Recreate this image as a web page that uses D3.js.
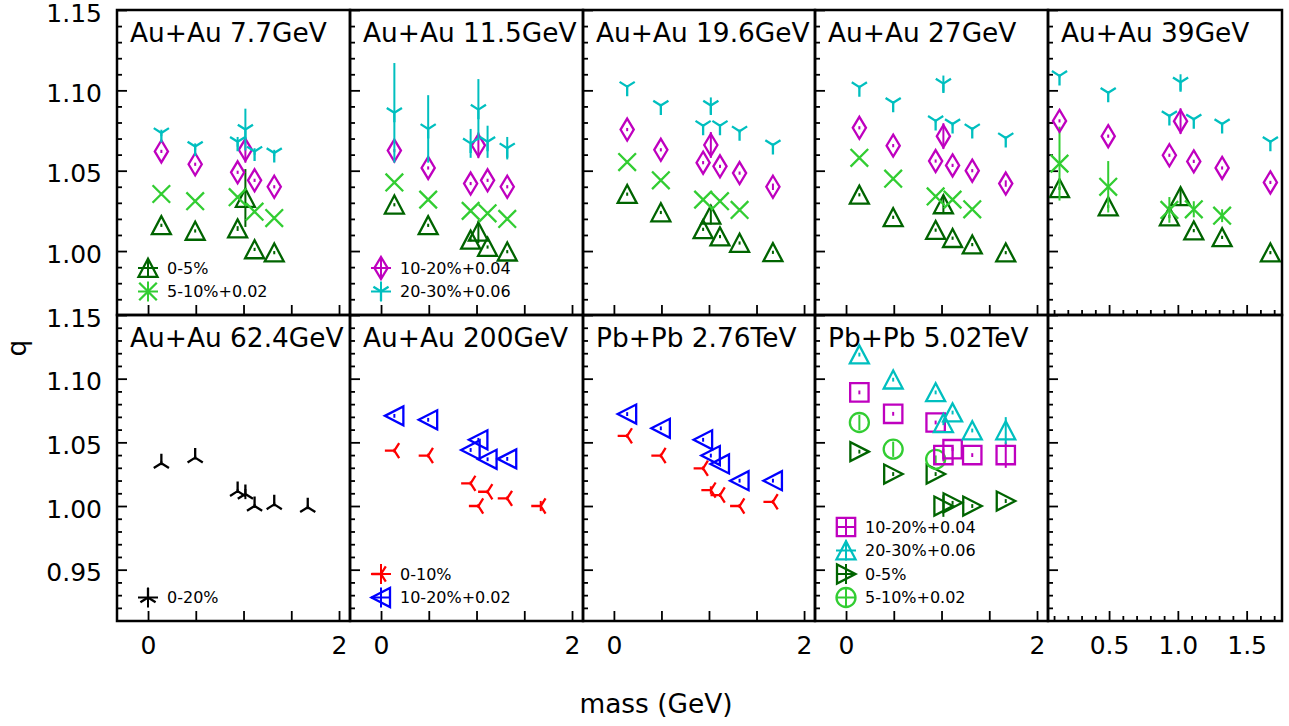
<!DOCTYPE html>
<html><head><meta charset="utf-8">
<script src="https://cdn.jsdelivr.net/npm/d3@7"></script>
<style>body{margin:0;background:#fff}svg{display:block}text{font-family:"DejaVu Sans",sans-serif;fill:#000}</style>
</head><body><svg id="c" width="1289" height="726"></svg>
<script>
// ---------------- data ----------------
const species = ["pi", "K", "p", "phi", "Lambda", "Xi", "Omega"];
const mass = [0.1396, 0.4937, 0.9383, 1.0195, 1.1157, 1.3217, 1.6725];

// Au+Au 7.7 GeV
const q7_0_5   = [1.016, 1.0125, 1.014, 1.033, 1.001, 0.999, null];
const e7_0_5   = [0.001, 0.001, 0.0015, 0.018, 0.001, 0.001, null];
const q7_5_10  = [1.0355, 1.031, 1.0335, null, 1.0245, 1.0205, null];
const e7_5_10  = [0.001, 0.001, 0.001, null, 0.001, 0.001, null];
const q7_10_20 = [1.062, 1.054, 1.049, 1.063, 1.044, 1.040, null];
const e7_10_20 = [0.001, 0.001, 0.001, 0.008, 0.001, 0.001, null];
const q7_20_30 = [1.0735, 1.065, 1.068, 1.0756, 1.062, 1.061, null];
const e7_20_30 = [0.002, 0.002, 0.003, 0.013, 0.002, 0.002, null];
// Au+Au 11.5 GeV
const q11_0_5   = [1.0288, 1.016, 1.007, 1.012, 1.0025, 0.9996, null];
const e11_0_5   = [0.001, 0.001, 0.001, 0.007, 0.001, 0.001, null];
const q11_5_10  = [1.0427, 1.032, 1.025, null, 1.0235, 1.020, null];
const e11_5_10  = [0.001, 0.001, 0.001, null, 0.001, 0.001, null];
const q11_10_20 = [1.0625, 1.0517, 1.042, 1.0658, 1.044, 1.040, null];
const e11_10_20 = [0.001, 0.001, 0.001, 0.008, 0.001, 0.001, null];
const q11_20_30 = [1.086, 1.076, 1.067, 1.088, 1.068, 1.064, null];
const e11_20_30 = [0.031, 0.021, 0.009, 0.019, 0.010, 0.007, null];
// Au+Au 19.6 GeV
const q19_0_5   = [1.0354, 1.024, 1.0135, 1.0225, 1.009, 1.005, 0.9992];
const e19_0_5   = [0.001, 0.001, 0.001, 0.006, 0.001, 0.001, 0.001];
const q19_5_10  = [1.0554, 1.044, 1.032, null, 1.031, 1.0256, null];
const e19_5_10  = [0.001, 0.001, 0.001, null, 0.001, 0.001, null];
const q19_10_20 = [1.0756, 1.063, 1.055, 1.066, 1.0527, 1.0485, 1.040];
const e19_10_20 = [0.001, 0.001, 0.001, 0.008, 0.001, 0.001, 0.002];
const q19_20_30 = [1.1023, 1.0906, 1.078, 1.0906, 1.078, 1.0746, 1.066];
const e19_20_30 = [0.001, 0.001, 0.001, 0.005, 0.001, 0.001, 0.001];
// Au+Au 27 GeV
const q27_0_5   = [1.035, 1.021, 1.013, 1.029, 1.008, 1.004, 0.999];
const e27_0_5   = [0.001, 0.001, 0.001, 0.006, 0.001, 0.001, 0.001];
const q27_5_10  = [1.058, 1.045, 1.034, null, 1.032, 1.026, null];
const e27_5_10  = [0.001, 0.001, 0.001, null, 0.001, 0.001, null];
const q27_10_20 = [1.0767, 1.0656, 1.056, 1.0715, 1.0533, 1.050, 1.042];
const e27_10_20 = [0.001, 0.001, 0.001, 0.008, 0.001, 0.001, 0.002];
const q27_20_30 = [1.102, 1.0923, 1.081, 1.1042, 1.079, 1.076, 1.0704];
const e27_20_30 = [0.001, 0.001, 0.001, 0.005, 0.001, 0.001, 0.001];
// Au+Au 39 GeV
const q39_0_5   = [1.039, 1.0277, 1.0215, 1.034, 1.0127, 1.0085, 0.999];
const e39_0_5   = [0.001, 0.001, 0.001, 0.005, 0.001, 0.001, 0.001];
const q39_5_10  = [1.0544, 1.040, 1.0256, null, 1.026, 1.022, null];
const e39_5_10  = [0.023, 0.016, 0.008, null, 0.005, 0.004, null];
const q39_10_20 = [1.081, 1.0715, 1.0596, 1.0808, 1.0558, 1.0517, 1.0427];
const e39_10_20 = [0.001, 0.001, 0.001, 0.008, 0.001, 0.001, 0.001];
const q39_20_30 = [1.109, 1.0985, 1.084, 1.105, 1.082, 1.079, 1.068];
const e39_20_30 = [0.001, 0.001, 0.001, 0.005, 0.001, 0.001, 0.001];
// Au+Au 62.4 GeV
const q62_0_20 = [1.0336, 1.038, 1.0117, 1.0094, 1.000, 1.0013, 0.999];
const e62_0_20 = [0.0015, 0.0015, 0.0015, 0.004, 0.0015, 0.0015, 0.0015];
// Au+Au 200 GeV
const q200_0_10  = [1.0435, 1.0396, 1.0178, 1.000, 1.0112, 1.006, 1.000];
const e200_0_10  = [0.0015, 0.0015, 0.0015, 0.0015, 0.0015, 0.0015, 0.004];
const q200_10_20 = [1.0708, 1.0677, 1.044, 1.052, 1.0367, 1.037, null];
const e200_10_20 = [0.0015, 0.0015, 0.0015, 0.0015, 0.0015, 0.0015, null];
// Pb+Pb 2.76 TeV
const q276_0_10  = [1.0551, 1.0396, 1.0296, 1.0125, 1.0086, 1.000, 1.0033];
const e276_0_10  = [0.0015, 0.0015, 0.0015, 0.003, 0.0015, 0.0015, 0.0015];
const q276_10_20 = [1.0722, 1.061, 1.052, 1.0396, 1.033, 1.0199, 1.0199];
const e276_10_20 = [0.0015, 0.0015, 0.0015, 0.0015, 0.0015, 0.0015, 0.0015];
// Pb+Pb 5.02 TeV
const q502_10_20 = [1.0892, 1.0724, 1.0656, 1.040, 1.0446, 1.040, 1.040];
const e502_10_20 = [0.0015, 0.0015, 0.0015, 0.005, 0.0015, 0.0015, 0.010];
const q502_20_30 = [1.1189, 1.0992, 1.0892, 1.065, 1.0734, 1.0593, 1.0593];
const e502_20_30 = [0.0015, 0.0015, 0.0015, 0.0015, 0.0015, 0.0015, 0.0105];
const q502_0_5   = [1.0427, 1.0251, 1.0251, 1.000, 1.0025, 1.000, 1.0039];
const e502_0_5   = [0.0015, 0.0015, 0.0015, 0.0085, 0.0015, 0.0015, 0.0015];
const q502_5_10  = [1.0656, 1.0446, 1.0367, null, null, null, null];
const e502_5_10  = [0.006, 0.006, 0.003, null, null, null, null];

const titles = ["Au+Au 7.7GeV", "Au+Au 11.5GeV", "Au+Au 19.6GeV", "Au+Au 27GeV", "Au+Au 39GeV",
                "Au+Au 62.4GeV", "Au+Au 200GeV", "Pb+Pb 2.76TeV", "Pb+Pb 5.02TeV", ""];

const yTicksTopMajor = [1.00, 1.05, 1.10, 1.15];
const yTicksBotMajor = [0.95, 1.00, 1.05, 1.10, 1.15];
const xTicksStd = [0, 0.5, 1.0, 1.5, 2.0];
const xLabelsStd = [0, 2];
const xTicksLastMajor = [0.5, 1.0, 1.5];
const xLabelsLast = ["0.5", "1.0", "1.5"];

// ---------------- styles ----------------
const styles = {
  c05:  {marker: "triUp",    color: "#006400", label: "0-5%"},
  c510: {marker: "x",        color: "#32CD32", label: "5-10%+0.02"},
  c1020:{marker: "diamond",  color: "#BF00BF", label: "10-20%+0.04"},
  c2030:{marker: "tri1",     color: "#00BFBF", label: "20-30%+0.06"},
  k020: {marker: "tri2",     color: "#000000", label: "0-20%"},
  r010: {marker: "tri3",     color: "#FF0000", label: "0-10%"},
  b1020:{marker: "triLeft",  color: "#0000FF", label: "10-20%+0.02"},
  s1020:{marker: "square",   color: "#BF00BF", label: "10-20%+0.04"},
  s2030:{marker: "triUp",    color: "#00BFBF", label: "20-30%+0.06"},
  s05:  {marker: "triRight", color: "#006400", label: "0-5%"},
  s510: {marker: "circle",   color: "#32CD32", label: "5-10%+0.02"}
};

function S(q, e, key) { return {q, e, key}; }
const panels = [
  {series: [S(q7_0_5,e7_0_5,"c05"), S(q7_5_10,e7_5_10,"c510"), S(q7_10_20,e7_10_20,"c1020"), S(q7_20_30,e7_20_30,"c2030")], legend: ["c05","c510"]},
  {series: [S(q11_0_5,e11_0_5,"c05"), S(q11_5_10,e11_5_10,"c510"), S(q11_10_20,e11_10_20,"c1020"), S(q11_20_30,e11_20_30,"c2030")], legend: ["c1020","c2030"]},
  {series: [S(q19_0_5,e19_0_5,"c05"), S(q19_5_10,e19_5_10,"c510"), S(q19_10_20,e19_10_20,"c1020"), S(q19_20_30,e19_20_30,"c2030")], legend: []},
  {series: [S(q27_0_5,e27_0_5,"c05"), S(q27_5_10,e27_5_10,"c510"), S(q27_10_20,e27_10_20,"c1020"), S(q27_20_30,e27_20_30,"c2030")], legend: []},
  {series: [S(q39_0_5,e39_0_5,"c05"), S(q39_5_10,e39_5_10,"c510"), S(q39_10_20,e39_10_20,"c1020"), S(q39_20_30,e39_20_30,"c2030")], legend: []},
  {series: [S(q62_0_20,e62_0_20,"k020")], legend: ["k020"]},
  {series: [S(q200_0_10,e200_0_10,"r010"), S(q200_10_20,e200_10_20,"b1020")], legend: ["r010","b1020"]},
  {series: [S(q276_0_10,e276_0_10,"r010"), S(q276_10_20,e276_10_20,"b1020")], legend: []},
  {series: [S(q502_0_5,e502_0_5,"s05"), S(q502_5_10,e502_5_10,"s510"), S(q502_10_20,e502_10_20,"s1020"), S(q502_20_30,e502_20_30,"s2030")], legend: ["s1020","s2030","s05","s510"]},
  {series: [], legend: []}
];

// ---------------- layout ----------------
const colEdges = [117, 350, 583, 815, 1048, 1282];
const rowEdges = [10, 315, 621];
const xDomStd = [-0.325, 2.115];
const xDomLast = [0.056, 1.757];
const yDomTop = [0.9602, 1.15];
const yDomBot = [0.9097, 1.15];

function markerPath(type) {
  switch (type) {
    case "triUp":    return "M0,-9.2L-9.5,8.8L9.5,8.8Z";
    case "triRight": return "M9.5,0L-9,-9.5L-9,9.5Z";
    case "triLeft":  return "M-9.5,0L9,-9.5L9,9.5Z";
    case "x":        return "M-8.8,-8.8L8.8,8.8M-8.8,8.8L8.8,-8.8";
    case "diamond":  return "M0,-11L6.6,0L0,11L-6.6,0Z";
    case "tri1":     return "M0,0L0,9.5M0,0L7.6,-4.8M0,0L-7.6,-4.8";
    case "tri2":     return "M0,0L0,-9.5M0,0L7.6,4.8M0,0L-7.6,4.8";
    case "tri3":     return "M0,0L-9.5,0M0,0L4.8,-7.6M0,0L4.8,7.6";
    case "square":   return "M-9.2,-9.2H9.2V9.2H-9.2Z";
    case "circle":   return "M9.5,0A9.5,9.5 0 1,1 -9.5,0A9.5,9.5 0 1,1 9.5,0Z";
  }
}

const svg = d3.select("#c");
const FONT = "DejaVu Sans";
const MW = 2.3;

panels.forEach((pd, i) => {
  const row = Math.floor(i / 5), col = i % 5;
  const x0 = colEdges[col], x1 = colEdges[col + 1];
  const y0 = rowEdges[row], y1 = rowEdges[row + 1];
  const x = d3.scaleLinear().domain(col === 4 ? xDomLast : xDomStd).range([x0, x1]);
  const y = d3.scaleLinear().domain(row === 0 ? yDomTop : yDomBot).range([y1, y0]);
  const g = svg.append("g");

  const clipId = "clip" + i;
  svg.append("clipPath").attr("id", clipId).append("rect")
    .attr("x", x0).attr("y", y0).attr("width", x1 - x0).attr("height", y1 - y0);

  // y ticks (minor + major), inward
  const lo = row === 0 ? 97 : 91;
  const yMinor = d3.range(lo, 116).filter(k => k % 5 !== 0).map(k => k / 100);
  const yMajor = row === 0 ? yTicksTopMajor : yTicksBotMajor;
  const yAxMinor = g.append("g").attr("transform", `translate(${x0},0)`)
    .call(d3.axisLeft(y).tickValues(yMinor).tickSize(-5).tickFormat(""));
  const yAxMajor = g.append("g").attr("transform", `translate(${x0},0)`)
    .call(d3.axisLeft(y).tickValues(yMajor).tickSize(-10).tickPadding(15)
      .tickFormat(col === 0 ? d3.format(".2f") : ""));
  yAxMajor.selectAll(".tick text").attr("dy", "0.44em");
  // x ticks
  let xAxMajor, xAxMinor = null;
  if (col === 4) {
    xAxMinor = g.append("g").attr("transform", `translate(0,${y1})`)
      .call(d3.axisBottom(x).tickValues(d3.range(1, 18).filter(k => k % 5 !== 0).map(k => k / 10)).tickSize(-5).tickFormat(""));
    xAxMajor = g.append("g").attr("transform", `translate(0,${y1})`)
      .call(d3.axisBottom(x).tickValues(xTicksLastMajor).tickSize(-10).tickPadding(15)
        .tickFormat((d, j) => row === 1 ? xLabelsLast[j] : ""));
  } else {
    xAxMajor = g.append("g").attr("transform", `translate(0,${y1})`)
      .call(d3.axisBottom(x).tickValues(xTicksStd).tickSize(-10).tickPadding(15)
        .tickFormat(d => (row === 1 && xLabelsStd.includes(d)) ? String(d) : ""));
  }
  [yAxMinor, yAxMajor, xAxMajor, xAxMinor].forEach(a => {
    if (!a) return;
    a.select(".domain").remove();
    a.selectAll(".tick line").attr("stroke", "#000").attr("stroke-width", 1.8);
    a.selectAll(".tick text").attr("font-family", FONT).attr("font-size", 25).attr("fill", "#000");
  });

  // data
  const dg = svg.append("g").attr("clip-path", `url(#${clipId})`);
  pd.series.forEach(s => {
    const st = styles[s.key];
    const pts = mass.map((m, j) => ({m, q: s.q[j], e: s.e[j]})).filter(d => d.q != null);
    dg.selectAll(null).data(pts).enter().append("line")
      .attr("x1", d => x(d.m)).attr("x2", d => x(d.m))
      .attr("y1", d => y(d.q - d.e)).attr("y2", d => y(d.q + d.e))
      .attr("stroke", st.color).attr("stroke-width", 2);
    dg.selectAll(null).data(pts).enter().append("path")
      .attr("d", markerPath(st.marker))
      .attr("transform", d => `translate(${x(d.m)},${y(d.q)})`)
      .attr("fill", "none").attr("stroke", st.color).attr("stroke-width", MW)
      .attr("stroke-linejoin", "miter");
  });

  // legend
  const n = pd.legend.length;
  pd.legend.forEach((key, j) => {
    const st = styles[key];
    const ly = y1 - 23.5 - (n - 1 - j) * 23.5;
    const lx = x0 + 31;
    const lg = svg.append("g").attr("transform", `translate(${lx},${ly})`);
    lg.append("path").attr("d", "M-10,0H10M0,-10V10").attr("stroke", st.color).attr("stroke-width", 2);
    lg.append("path").attr("d", markerPath(st.marker)).attr("fill", "none")
      .attr("stroke", st.color).attr("stroke-width", MW);
    svg.append("text").attr("x", x0 + 50).attr("y", ly).attr("dy", "0.35em")
      .attr("font-family", FONT).attr("font-size", 16).text(st.label);
  });

  // title
  if (titles[i]) {
    svg.append("text").attr("x", x0 + 13).attr("y", y0 + 32)
      .attr("font-family", FONT).attr("font-size", 26.4).text(titles[i]);
  }

  // frame
  svg.append("rect").attr("x", x0).attr("y", y0).attr("width", x1 - x0).attr("height", y1 - y0)
    .attr("fill", "none").attr("stroke", "#000").attr("stroke-width", 2.5);
});

// axis labels
svg.append("text").attr("x", 656).attr("y", 713).attr("text-anchor", "middle")
  .attr("font-family", FONT).attr("font-size", 26.4).text("mass (GeV)");
svg.append("text").attr("transform", "translate(26,348) rotate(-90)").attr("text-anchor", "middle")
  .attr("font-family", FONT).attr("font-size", 26.4).text("q");
</script>
</body></html>
